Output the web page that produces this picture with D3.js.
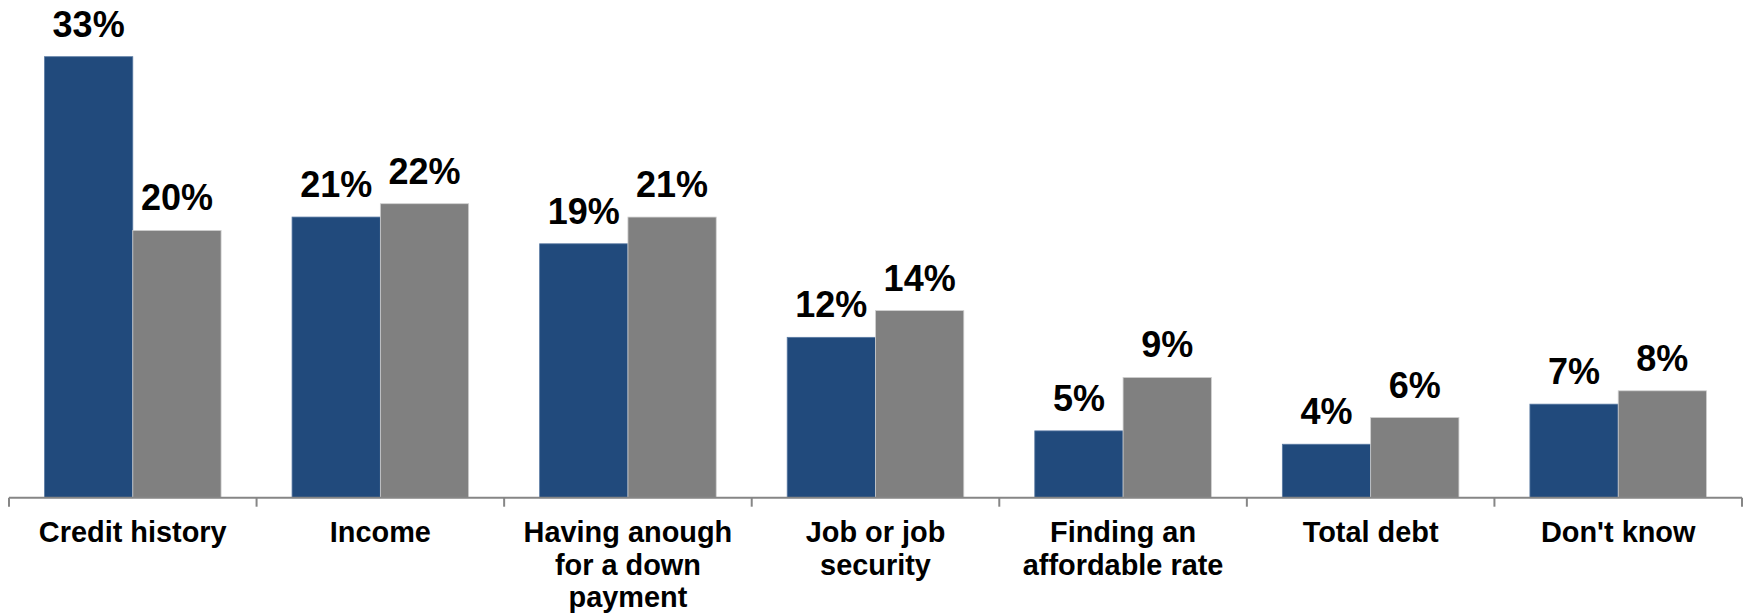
<!DOCTYPE html>
<html>
<head>
<meta charset="utf-8">
<script src="https://cdn.jsdelivr.net/npm/d3@7"></script>
<style>
  html, body { margin: 0; padding: 0; background: #fff; }
  svg { display: block; }
  text { font-family: "Liberation Sans", Arial, sans-serif; font-weight: bold; fill: #000; }
</style>
</head>
<body>
<svg id="chart" width="1748" height="614"></svg>
<script>
// Category labels (line breaks as drawn under the axis)
const categories = [
  "Credit history",
  "Income",
  "Having anough\nfor a down\npayment",
  "Job or job\nsecurity",
  "Finding an\naffordable rate",
  "Total debt",
  "Don't know"
];
const seriesNames = ["Series A", "Series B"];
const seriesA = [33, 21, 19, 12, 5, 4, 7];
const seriesB = [20, 22, 21, 14, 9, 6, 8];
const colors = ["#214A7C", "#808080"];

const svg = d3.select("#chart");
const baseY = 497.7;

const rows = categories.map((c, i) => ({ cat: c, values: [seriesA[i], seriesB[i]] }));

const x0 = d3.scaleBand()
  .domain(categories)
  .range([9, 1742])
  .paddingInner(0.2867)
  .paddingOuter(0.2867 / 2);

const x1 = d3.scaleBand()
  .domain(seriesNames)
  .range([0, x0.bandwidth()])
  .padding(0);

const y = d3.scaleLinear()
  .domain([0, 33])
  .range([baseY, 56.7]);

const color = d3.scaleOrdinal().domain(seriesNames).range(colors);

// Bars
const groups = svg.append("g").selectAll("g")
  .data(rows)
  .join("g")
  .attr("transform", d => `translate(${x0(d.cat)},0)`);

groups.selectAll("rect")
  .data(d => d.values.map((v, k) => ({ key: seriesNames[k], v })))
  .join("rect")
  .attr("x", d => x1(d.key))
  .attr("y", d => y(d.v))
  .attr("width", x1.bandwidth())
  .attr("height", d => y(0) - y(d.v))
  .attr("fill", d => color(d.key))
  .attr("stroke", d => d.key === seriesNames[0] ? "#5a7aa3" : "#d0d0d0")
  .attr("stroke-width", 0.8);

// Value labels
groups.selectAll("text.val")
  .data(d => d.values.map((v, k) => ({ key: seriesNames[k], v })))
  .join("text")
  .attr("class", "val")
  .attr("x", d => x1(d.key) + x1.bandwidth() / 2)
  .attr("y", d => y(d.v) - 20)
  .attr("text-anchor", "middle")
  .style("font-size", "36px")
  .text(d => d.v + "%");

// Category axis with ticks at band boundaries
const axis = svg.append("g");
const step = x0.step();
const start = x0.range()[0];
axis.append("line")
  .attr("x1", start).attr("x2", x0.range()[1])
  .attr("y1", baseY).attr("y2", baseY)
  .attr("stroke", "#868686").attr("stroke-width", 2);
d3.range(categories.length + 1).forEach(i => {
  const tx = start + i * step;
  axis.append("line")
    .attr("x1", tx).attr("x2", tx)
    .attr("y1", baseY).attr("y2", baseY + 9)
    .attr("stroke", "#868686").attr("stroke-width", 2);
});

// Category labels
const labels = axis.selectAll("text.cat")
  .data(categories)
  .join("text")
  .attr("class", "cat")
  .attr("text-anchor", "middle")
  .attr("x", d => x0(d) + x0.bandwidth() / 2)
  .attr("y", 542.3)
  .style("font-size", "28.9px");

labels.selectAll("tspan")
  .data(d => d.split("\n"))
  .join("tspan")
  .attr("x", function () { return d3.select(this.parentNode).attr("x"); })
  .attr("dy", (d, i) => i === 0 ? 0 : 32.2)
  .text(d => d);
</script>
</body>
</html>
